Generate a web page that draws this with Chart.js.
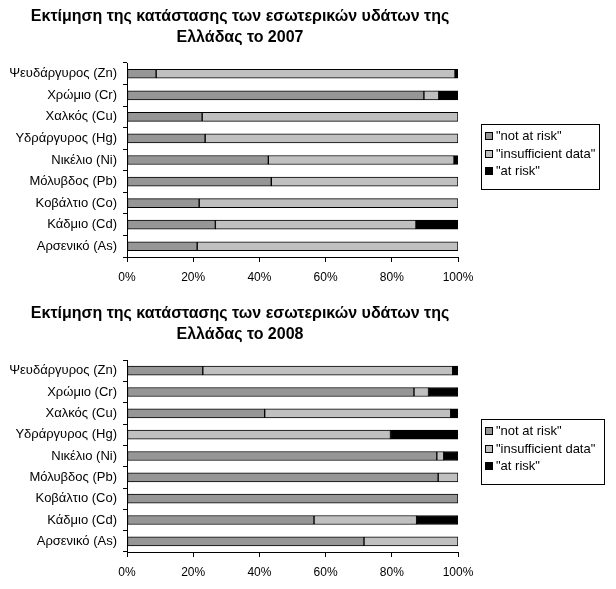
<!DOCTYPE html>
<html>
<head>
<meta charset="utf-8">
<script src="https://cdn.jsdelivr.net/npm/chart.js@4"></script>
<style>
  body { margin: 0; background: #fff; }
  .wrap { position: absolute; left: 0; width: 616px; }
</style>
</head>
<body>
<div class="wrap" style="top:0;height:296px"><canvas id="chart2007"></canvas></div>
<div class="wrap" style="top:297px;height:292px"><canvas id="chart2008"></canvas></div>
<script>
// Categories (top to bottom)
const metals = [
  "Ψευδάργυρος (Zn)",
  "Χρώμιο (Cr)",
  "Χαλκός (Cu)",
  "Υδράργυρος (Hg)",
  "Νικέλιο (Ni)",
  "Μόλυβδος (Pb)",
  "Κοβάλτιο (Co)",
  "Κάδμιο (Cd)",
  "Αρσενικό (As)",
];
const seriesNames = ['"not at risk"', '"insufficient data"', '"at risk"'];
const seriesColors = ["#969696", "#c0c0c0", "#000000"];
const xTicks = [0, 20, 40, 60, 80, 100];

// 2007 values (%)
const notAtRisk2007 = [8.8, 89.7, 22.7, 23.6, 42.7, 43.6, 21.8, 26.7, 21.2];
const insufficient2007 = [90.3, 4.5, 77.3, 76.4, 56.1, 56.4, 78.2, 60.6, 78.8];
const atRisk2007 = [0.9, 5.8, 0, 0, 1.2, 0, 0, 12.7, 0];

// 2008 values (%)
const notAtRisk2008 = [22.9, 86.7, 41.6, 0, 93.6, 94.0, 100, 56.5, 71.6];
const insufficient2008 = [75.5, 4.4, 56.2, 79.6, 2.1, 6.0, 0, 31.0, 28.4];
const atRisk2008 = [1.6, 8.9, 2.2, 20.4, 4.3, 0, 0, 12.5, 0];

const titleLine1 = "Εκτίμηση της κατάστασης των εσωτερικών υδάτων της";

// Title + boxed legend drawn by hand
const decorPlugin = {
  id: "decor",
  afterDraw(chart, args, opts) {
    const ctx = chart.ctx;
    ctx.save();
    ctx.fillStyle = "#000";
    ctx.textAlign = "center";
    ctx.textBaseline = "middle";
    ctx.font = "bold 16px 'Liberation Sans', Arial, sans-serif";
    opts.title.forEach((line, i) => ctx.fillText(line, 240, 17 + i * 21));

    const box = opts.legendBox;
    ctx.strokeStyle = "#000";
    ctx.lineWidth = 1;
    ctx.strokeRect(box.x + 0.5, box.y + 0.5, box.w, box.h);
    ctx.textAlign = "left";
    ctx.font = "13px 'Liberation Sans', Arial, sans-serif";
    chart.data.datasets.forEach((ds, i) => {
      const cy = Math.round(box.y + 12 + i * 17.7);
      ctx.fillStyle = ds.backgroundColor;
      ctx.fillRect(box.x + 4, cy - 4, 8, 8);
      ctx.strokeRect(box.x + 4.5, cy - 3.5, 7, 7);
      ctx.fillStyle = "#000";
      ctx.fillText(ds.label, box.x + 15, cy);
    });
    ctx.restore();
  },
};

function makeChart(id, year, values, bottomGap, legendBox) {
  const datasets = values.map((data, i) => ({
    label: seriesNames[i],
    data,
    backgroundColor: seriesColors[i],
    borderColor: "#000",
    borderWidth: 1,
    borderSkipped: false,
    barThickness: 9,
  }));

  return new Chart(document.getElementById(id), {
    type: "bar",
    data: { labels: metals, datasets },
    options: {
      indexAxis: "y",
      responsive: true,
      maintainAspectRatio: false,
      animation: false,
      layout: { padding: { top: 63, right: 158, left: 0, bottom: 0 } },
      scales: {
        x: {
          stacked: true,
          min: 0,
          max: 100,
          afterBuildTicks: (scale) => {
            scale.ticks = xTicks.map((v) => ({ value: v }));
          },
          afterFit: (scale) => {
            scale.height = bottomGap;
          },
          ticks: {
            color: "#000",
            font: { size: 12, family: "'Liberation Sans', Arial, sans-serif" },
            padding: 8,
            maxRotation: 0,
            callback: (v) => v + "%",
          },
          grid: {
            drawOnChartArea: false,
            drawTicks: true,
            tickLength: 5,
            color: "#000",
          },
          border: { color: "#000" },
        },
        y: {
          stacked: true,
          afterFit: (scale) => {
            scale.width = 127;
          },
          ticks: {
            color: "#000",
            font: { size: 13, family: "'Liberation Sans', Arial, sans-serif" },
            padding: 6,
          },
          grid: {
            drawOnChartArea: false,
            drawTicks: true,
            tickLength: 4,
            color: "#000",
          },
          border: { color: "#000" },
        },
      },
      plugins: {
        legend: { display: false },
        title: { display: false },
        tooltip: { enabled: false },
        decor: {
          title: [titleLine1, "Ελλάδας το " + year],
          legendBox,
        },
      },
    },
    plugins: [decorPlugin],
  });
}

makeChart("chart2007", 2007, [notAtRisk2007, insufficient2007, atRisk2007], 39,
  { x: 481, y: 124, w: 118, h: 65 });
makeChart("chart2008", 2008, [notAtRisk2008, insufficient2008, atRisk2008], 37,
  { x: 481, y: 122, w: 123, h: 65 });
</script>
</body>
</html>
